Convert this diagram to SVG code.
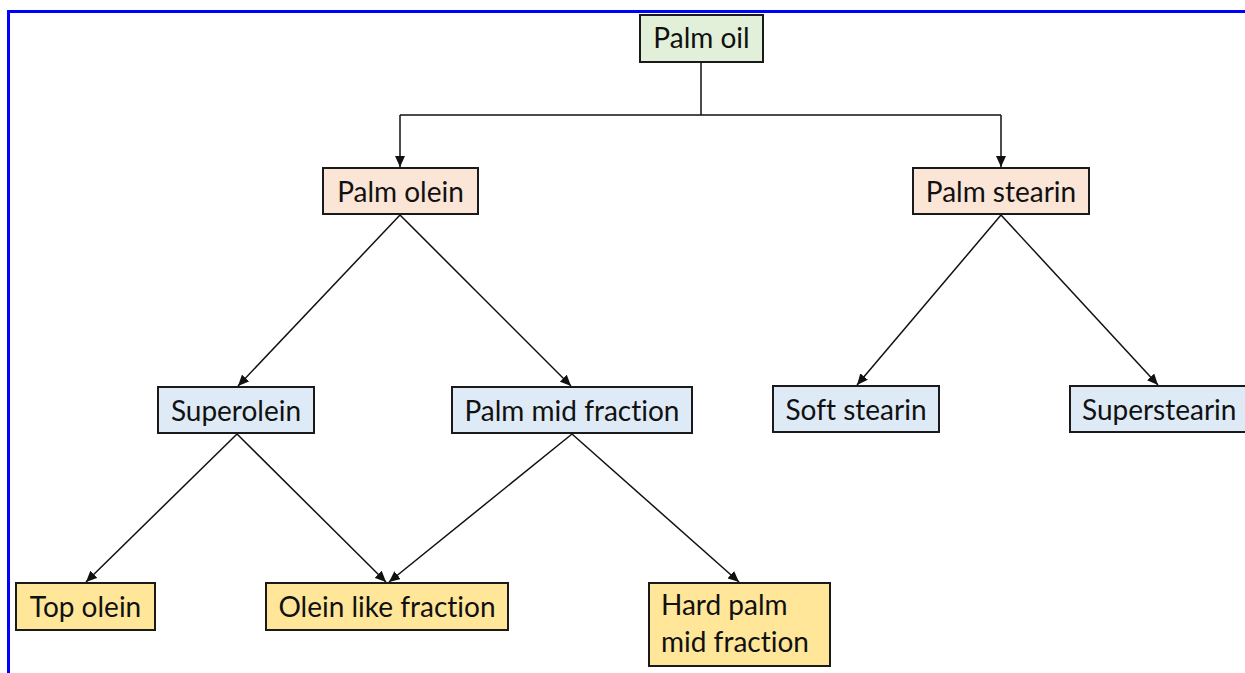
<svg xmlns="http://www.w3.org/2000/svg" width="1245" height="673" viewBox="0 0 1245 673">
<defs>
<marker id="arr" markerUnits="userSpaceOnUse" markerWidth="12" markerHeight="10" refX="11" refY="5" orient="auto">
<path d="M0,0 L11,5 L0,10 z" fill="#111"/>
</marker>
<style>
.box{stroke:#1a1a1a;stroke-width:2}
.g{fill:#E2F0D9}.o{fill:#FBE5D6}.b{fill:#DEEBF7}.y{fill:#FFE699}
text{font-family:Lato,"Open Sans","Liberation Sans",sans-serif;font-size:28px;fill:#111;font-variant-ligatures:none}
.c{text-anchor:middle}
.ln{fill:none;stroke:#111;stroke-width:1.5}
</style>
</defs>
<rect width="1245" height="673" fill="#fff"/>
<path d="M8.5,673 V11.5 H1245" fill="none" stroke="#0000FF" stroke-width="3"/>
<g id="connectors">
<path class="ln" d="M701,62 V115 M400,115 H1001"/>
<path class="ln" d="M400,115 V167" marker-end="url(#arr)"/>
<path class="ln" d="M1001,115 V167" marker-end="url(#arr)"/>
<path class="ln" d="M400,215 L238,386" marker-end="url(#arr)"/>
<path class="ln" d="M400,215 L571,386" marker-end="url(#arr)"/>
<path class="ln" d="M1001,215 L857,385" marker-end="url(#arr)"/>
<path class="ln" d="M1001,215 L1158,385" marker-end="url(#arr)"/>
<path class="ln" d="M237,434 L86,582" marker-end="url(#arr)"/>
<path class="ln" d="M237,434 L386,582" marker-end="url(#arr)"/>
<path class="ln" d="M572,434 L389,582" marker-end="url(#arr)"/>
<path class="ln" d="M572,434 L739,582" marker-end="url(#arr)"/>
</g>
<g id="palm-oil"><rect class="box g" x="640" y="15" width="123" height="47"/><text class="c" x="701.5" y="48">Palm oil</text></g>
<g id="palm-olein"><rect class="box o" x="323" y="168" width="155" height="46"/><text class="c" x="400.5" y="202">Palm olein</text></g>
<g id="palm-stearin"><rect class="box o" x="913" y="168" width="176" height="46"/><text class="c" x="1001" y="202">Palm stearin</text></g>
<g id="superolein"><rect class="box b" x="158" y="387" width="156" height="46"/><text class="c" x="236" y="421">Superolein</text></g>
<g id="palm-mid-fraction"><rect class="box b" x="452" y="387" width="240" height="46"/><text class="c" x="572" y="421">Palm mid fraction</text></g>
<g id="soft-stearin"><rect class="box b" x="773" y="386" width="166" height="46"/><text class="c" x="856" y="420">Soft stearin</text></g>
<g id="superstearin"><rect class="box b" x="1070" y="386" width="180" height="46"/><text x="1082" y="420">Superstearin</text></g>
<g id="top-olein"><rect class="box y" x="16" y="583" width="139" height="47"/><text class="c" x="85.5" y="617">Top olein</text></g>
<g id="olein-like-fraction"><rect class="box y" x="266" y="583" width="242" height="47"/><text class="c" x="387" y="617">Olein like fraction</text></g>
<g id="hard-palm-mid-fraction"><rect class="box y" x="649" y="583" width="181" height="83"/><text x="661" y="615">Hard palm</text><text x="661" y="652">mid fraction</text></g>
</svg>
